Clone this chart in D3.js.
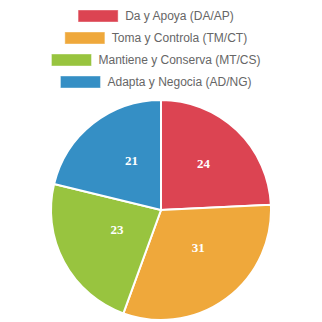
<!DOCTYPE html>
<html><head><meta charset="utf-8">
<script src="https://cdn.jsdelivr.net/npm/d3@7"></script>
<style>html,body{margin:0;padding:0;background:#fff;}svg{display:block;}</style>
</head><body>
<svg id="c" width="322" height="322"></svg>
<script>
const categories = ["Da y Apoya (DA/AP)", "Toma y Controla (TM/CT)", "Mantiene y Conserva (MT/CS)", "Adapta y Negocia (AD/NG)"];
const values = [24, 31, 23, 21];
const colors = ["#dc4452", "#efa83b", "#98c43f", "#358fc5"];

const svg = d3.select("#c");

// Legend
const legendCenterX = 156, legendTop = 16, rowH = 22, boxW = 40, boxH = 12, gap = 7;
const leg = svg.append("g");
categories.forEach((c, i) => {
  const g = leg.append("g");
  const t = g.append("text")
    .attr("y", legendTop + i * rowH)
    .attr("dy", "0.35em")
    .attr("font-family", "'Liberation Sans', Arial, sans-serif")
    .attr("font-size", 12)
    .attr("fill", "#666")
    .text(c);
  const tw = t.node().getComputedTextLength();
  const total = boxW + gap + tw;
  const x0 = legendCenterX - total / 2;
  g.insert("rect", "text")
    .attr("x", x0 + 0.5).attr("y", legendTop + i * rowH - boxH / 2 + 0.5)
    .attr("width", boxW - 1).attr("height", boxH - 1)
    .attr("fill", colors[i]).attr("stroke", colors[i]).attr("stroke-opacity", 0.6);
  t.attr("x", x0 + boxW + gap);
});

// Pie
const cx = 161, cy = 210, R = 110;
const pie = d3.pie().sort(null).value(d => d)(values);
const arc = d3.arc().innerRadius(0).outerRadius(R);
const labelArc = d3.arc().innerRadius(R * 0.5).outerRadius(R * 0.5);
const pg = svg.append("g").attr("transform", `translate(${cx},${cy})`);
pg.selectAll("path").data(pie).join("path")
  .attr("d", arc)
  .attr("fill", (d, i) => colors[i])
  .attr("stroke", "#fff")
  .attr("stroke-width", 2);
pg.selectAll("text").data(pie).join("text")
  .attr("transform", d => `translate(${labelArc.centroid(d)})`)
  .attr("text-anchor", "start")
  .attr("dx", "-0.15em")
  .attr("dy", "-0.15em")
  .attr("font-family", "'Liberation Serif', 'Times New Roman', serif")
  .attr("font-weight", "bold")
  .attr("font-size", 13)
  .attr("fill", "#fff")
  .text(d => d.data);
</script>
</body></html>
